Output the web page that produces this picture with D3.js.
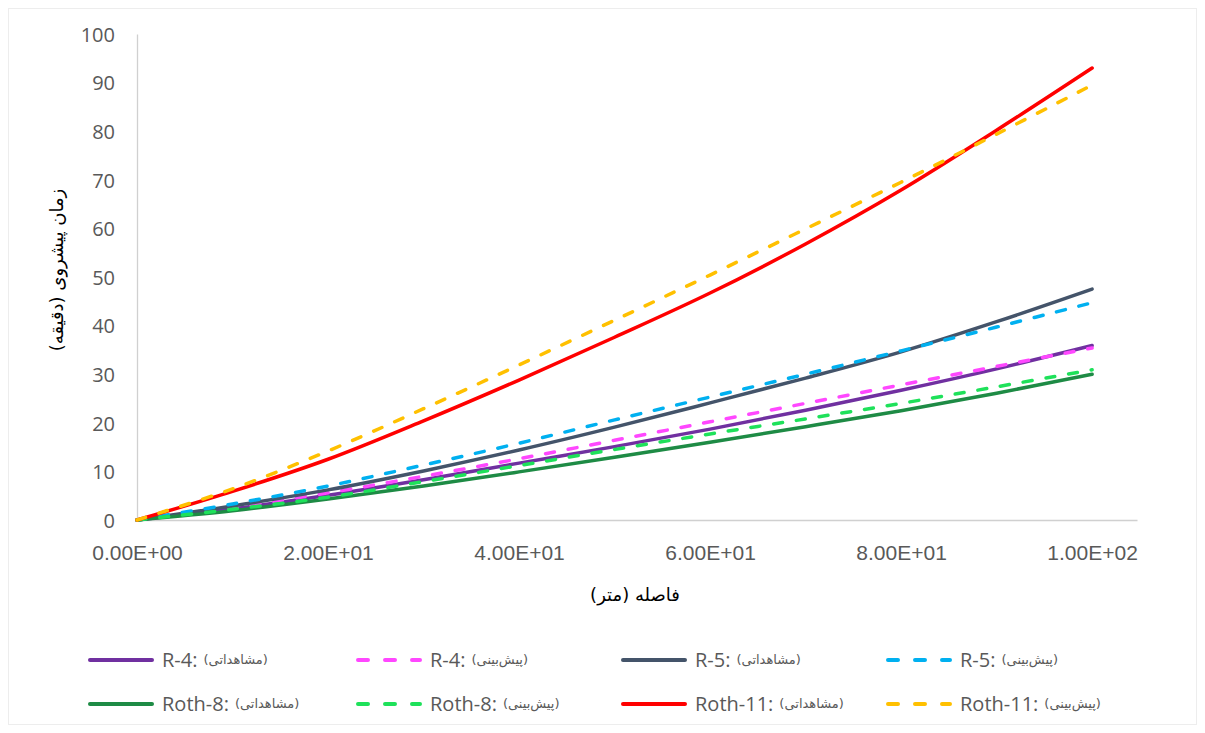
<!DOCTYPE html>
<html>
<head>
<meta charset="utf-8">
<script src="https://cdn.jsdelivr.net/npm/d3@7"></script>
<style>
  html, body { margin: 0; padding: 0; background: #ffffff; }
  svg { display: block; }
</style>
</head>
<body>
<svg id="chart" width="1205" height="733"></svg>
<script>
// Distance along the furrow (m)
const distance = [0, 10, 20, 30, 40, 50, 60, 70, 80, 90, 100];

// Advance time (min), observed and predicted, per field
const r4Observed     = [0, 2.3, 5.1, 8.3, 11.7, 15.1, 18.7, 22.6, 26.7, 31.1, 35.9];
const r4Predicted    = [0, 2.6, 5.6, 9.0, 12.6, 16.4, 20.2, 24.0, 27.8, 31.6, 35.4];
const r5Observed     = [0, 2.9, 6.2, 10.1, 14.4, 19.1, 24.1, 29.2, 34.6, 40.8, 47.5];
const r5Predicted    = [0, 3.3, 7.0, 11.3, 15.8, 20.6, 25.3, 30.0, 34.8, 39.7, 44.7];
const roth8Observed  = [0, 1.9, 4.3, 7.0, 9.9, 12.9, 16.0, 19.2, 22.5, 26.1, 30.0];
const roth8Predicted = [0, 2.2, 4.7, 7.9, 11.2, 14.5, 17.7, 20.8, 24.0, 27.4, 30.9];
const roth11Observed = [0, 5.9, 12.5, 20.4, 28.8, 37.6, 46.7, 56.8, 67.9, 80.2, 93.0];
const roth11Predicted= [0, 6.4, 14.2, 22.9, 31.9, 41.1, 50.4, 59.9, 69.5, 79.4, 89.5];

// Axis ticks
const xTicks = [0, 20, 40, 60, 80, 100];
const yTicks = [0, 10, 20, 30, 40, 50, 60, 70, 80, 90, 100];

// Series names and legend words
const seriesNames = ["R-4:", "R-4:", "R-5:", "R-5:", "Roth-8:", "Roth-8:", "Roth-11:", "Roth-11:"];
const observedWord = "(مشاهداتی)";
const predictedWord = "(پیش‌بینی)";
const xTitle = "فاصله (متر)";
const yTitle = "زمان پیشروی (دقیقه)";

const series = [
  { name: seriesNames[0], kind: observedWord,  values: r4Observed,      color: "#7030A0", dashed: false },
  { name: seriesNames[1], kind: predictedWord, values: r4Predicted,     color: "#FF47FF", dashed: true },
  { name: seriesNames[2], kind: observedWord,  values: r5Observed,      color: "#44546A", dashed: false },
  { name: seriesNames[3], kind: predictedWord, values: r5Predicted,     color: "#00B0F0", dashed: true },
  { name: seriesNames[4], kind: observedWord,  values: roth8Observed,   color: "#1E8B45", dashed: false },
  { name: seriesNames[5], kind: predictedWord, values: roth8Predicted,  color: "#1EE15A", dashed: true },
  { name: seriesNames[6], kind: observedWord,  values: roth11Observed,  color: "#FF0000", dashed: false },
  { name: seriesNames[7], kind: predictedWord, values: roth11Predicted, color: "#FFC000", dashed: true }
];

const svg = d3.select("#chart");
const W = 1205, H = 733;

// outer frame of the chart area
svg.append("rect")
  .attr("x", 8.5).attr("y", 8.5)
  .attr("width", W - 17).attr("height", H - 17)
  .attr("fill", "#ffffff").attr("stroke", "#EDEDED").attr("stroke-width", 1);

const plot = { left: 137, right: 1137, top: 34, bottom: 520 };

const x = d3.scaleLinear().domain([0, 104.7]).range([plot.left, plot.right]);
const y = d3.scaleLinear().domain([0, 100]).range([plot.bottom, plot.top]);

const tickColor = "#595959";

// x axis
const xAxis = svg.append("g")
  .attr("transform", `translate(0,${plot.bottom})`)
  .call(d3.axisBottom(x).tickValues(xTicks).tickSize(0).tickPadding(0)
        .tickFormat(d => d3.format(".2e")(d).replace("e", "E").replace(/E([+-])(\d)$/, "E$10$2")));
xAxis.select(".domain").attr("stroke", "#D0D0D0").attr("stroke-width", 1.3);
xAxis.selectAll("text")
  .attr("dy", null).attr("y", 40)
  .attr("fill", tickColor)
  .style("font-family", "'Liberation Sans Narrow', 'Arial Narrow', sans-serif")
  .style("font-size", "21px");

// y axis
const yAxis = svg.append("g")
  .attr("transform", `translate(${plot.left},0)`)
  .call(d3.axisLeft(y).tickValues(yTicks).tickSize(0).tickPadding(0));
yAxis.select(".domain").attr("stroke", "#D0D0D0").attr("stroke-width", 1.3);
yAxis.selectAll("text")
  .attr("x", -22).attr("dy", "0.36em")
  .attr("fill", tickColor)
  .style("font-family", "'Open Sans', Lato, sans-serif")
  .style("font-size", "20px");

// axis titles
const persianFont = "'DejaVu Sans', 'Noto Sans', sans-serif";
svg.append("text")
  .attr("x", (plot.left + plot.right) / 2 - 2)
  .attr("y", 601)
  .attr("text-anchor", "middle")
  .attr("direction", "rtl")
  .attr("fill", "#000")
  .style("font-family", persianFont)
  .style("font-size", "18px")
  .text(xTitle);

svg.append("text")
  .attr("transform", `translate(63,270) rotate(-90)`)
  .attr("text-anchor", "middle")
  .attr("direction", "rtl")
  .attr("fill", "#000")
  .style("font-family", persianFont)
  .style("font-size", "18px")
  .text(yTitle);

// series lines
const line = d3.line()
  .x((d, i) => x(distance[i]))
  .y(d => y(d))
  .curve(d3.curveCatmullRom.alpha(0.5));

const lines = svg.append("g");
series.forEach(s => {
  lines.append("path")
    .datum(s.values)
    .attr("d", line)
    .attr("fill", "none")
    .attr("stroke", s.color)
    .attr("stroke-width", 3.5)
    .attr("stroke-linecap", "round")
    .attr("stroke-linejoin", "round")
    .attr("stroke-dasharray", s.dashed ? "9,14" : null);
});

// legend
const legendCols = [88, 356, 621, 886];
const legendRows = [660, 704];
const legend = svg.append("g");
series.forEach((s, i) => {
  const cx = legendCols[i % 4];
  const cy = legendRows[Math.floor(i / 4)];
  const g = legend.append("g").attr("transform", `translate(${cx},${cy})`);
  g.append("line")
    .attr("x1", 2).attr("x2", 64).attr("y1", 0).attr("y2", 0)
    .attr("stroke", s.color).attr("stroke-width", 4)
    .attr("stroke-linecap", "round")
    .attr("stroke-dasharray", s.dashed ? "10,17" : null);
  const label = g.append("text")
    .attr("x", 74).attr("y", 0).attr("dy", "0.36em")
    .attr("fill", tickColor)
    .style("font-family", "'Open Sans', Lato, sans-serif")
    .style("font-size", "20px")
    .text(s.name);
  const w = label.node().getComputedTextLength();
  g.append("text")
    .attr("x", 74 + w + 6).attr("y", 0).attr("dy", "0.3em")
    .attr("fill", tickColor)
    .attr("text-anchor", "start")
    .style("font-family", persianFont)
    .style("font-size", "13px")
    .text(s.kind);
});
</script>
</body>
</html>
